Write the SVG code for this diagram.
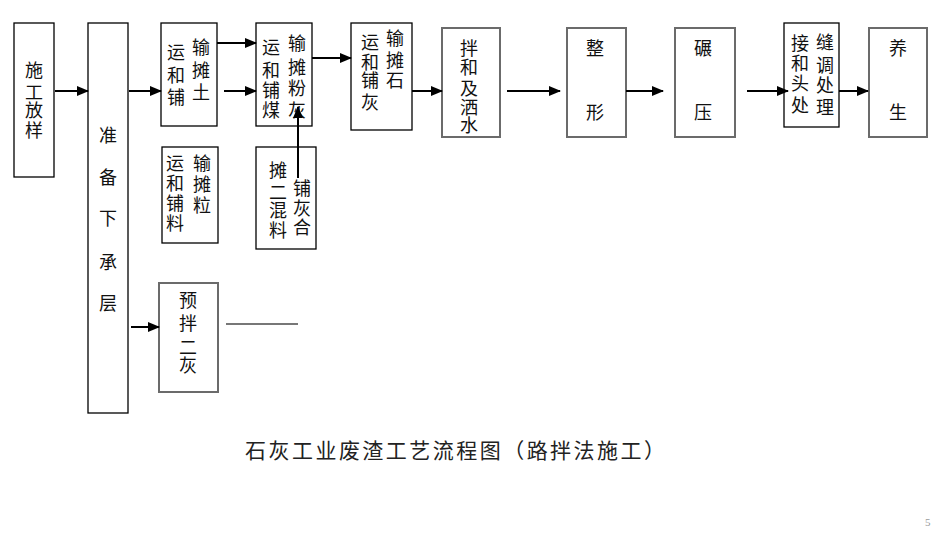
<svg xmlns="http://www.w3.org/2000/svg" width="931" height="533" viewBox="0 0 931 533">
<defs>
<marker id="ah" markerWidth="12" markerHeight="12" refX="11" refY="5" orient="auto" markerUnits="userSpaceOnUse" viewBox="0 0 12 10">
<path d="M0,0 L12,5 L0,10 Z" fill="#000"/>
</marker>
</defs>
<style>
.b{fill:#fff;stroke:#000;stroke-width:1.3}
.g{fill:#fff;stroke:#6b6b6b;stroke-width:2}
.t{font-family:"Noto Sans CJK SC","Liberation Sans",sans-serif;font-size:18px;fill:#111;text-anchor:middle}
.c{stroke:#000;stroke-width:2;fill:none}
.title{font-family:"Noto Sans CJK SC","Liberation Sans",sans-serif;font-size:21px;fill:#222;text-anchor:start}
</style>
<rect width="931" height="533" fill="#fff"/>
<g id="n1"><rect class="b" x="14" y="23" width="40" height="154"/>
<text class="t"><tspan x="34" y="77">施</tspan><tspan x="34" y="99">工</tspan><tspan x="34" y="117">放</tspan><tspan x="34" y="137">样</tspan></text></g>
<g id="n2"><rect class="b" x="88" y="23" width="40" height="390"/>
<text class="t"><tspan x="108" y="142">准</tspan><tspan x="108" y="184">备</tspan><tspan x="108" y="225">下</tspan><tspan x="108" y="269">承</tspan><tspan x="108" y="310">层</tspan></text></g>
<g id="n3"><rect class="b" x="161" y="23" width="56" height="103"/>
<text class="t"><tspan x="176" y="59">运</tspan><tspan x="176" y="82">和</tspan><tspan x="176" y="104">铺</tspan><tspan x="201" y="54">输</tspan><tspan x="201" y="77">摊</tspan><tspan x="201" y="99">土</tspan></text></g>
<g id="n4"><rect class="b" x="256" y="23" width="56" height="103"/>
<text class="t"><tspan x="271" y="54">运</tspan><tspan x="271" y="77">和</tspan><tspan x="271" y="97">铺</tspan><tspan x="271" y="117">煤</tspan><tspan x="297" y="50">输</tspan><tspan x="297" y="74">摊</tspan><tspan x="297" y="95">粉</tspan><tspan x="297" y="117">灰</tspan></text></g>
<g id="n5"><rect class="b" x="351" y="23" width="61" height="107"/>
<text class="t"><tspan x="370" y="49">运</tspan><tspan x="370" y="69">和</tspan><tspan x="370" y="87">铺</tspan><tspan x="370" y="109">灰</tspan><tspan x="395" y="45">输</tspan><tspan x="395" y="67">摊</tspan><tspan x="395" y="87">石</tspan></text></g>
<g id="n6"><rect class="g" x="442" y="28" width="58" height="109"/>
<text class="t"><tspan x="469" y="55">拌</tspan><tspan x="469" y="74">和</tspan><tspan x="469" y="95">及</tspan><tspan x="469" y="114">洒</tspan><tspan x="469" y="132">水</tspan></text></g>
<g id="n7"><rect class="g" x="567" y="28" width="59" height="109"/>
<text class="t"><tspan x="595" y="55">整</tspan><tspan x="595" y="119">形</tspan></text></g>
<g id="n8"><rect class="g" x="675" y="28" width="60" height="109"/>
<text class="t"><tspan x="703" y="55">碾</tspan><tspan x="703" y="119">压</tspan></text></g>
<g id="n9"><rect class="b" x="784" y="23" width="55" height="104"/>
<text class="t"><tspan x="800" y="50">接</tspan><tspan x="800" y="70">和</tspan><tspan x="800" y="90">头</tspan><tspan x="800" y="112">处</tspan><tspan x="825" y="49">缝</tspan><tspan x="825" y="72">调</tspan><tspan x="825" y="92">处</tspan><tspan x="825" y="114">理</tspan></text></g>
<g id="n10"><rect class="g" x="869" y="28" width="58" height="109"/>
<text class="t"><tspan x="898" y="55">养</tspan><tspan x="898" y="119">生</tspan></text></g>
<g id="n11"><rect class="b" x="162" y="147" width="56" height="96"/>
<text class="t"><tspan x="175" y="170">运</tspan><tspan x="175" y="190">和</tspan><tspan x="175" y="210">铺</tspan><tspan x="175" y="230">料</tspan><tspan x="202" y="170">输</tspan><tspan x="202" y="191">摊</tspan><tspan x="202" y="212">粒</tspan></text></g>
<g id="n12"><rect class="b" x="256" y="147" width="60" height="102"/>
<text class="t"><tspan x="278" y="177">摊</tspan><tspan x="278" y="199">二</tspan><tspan x="278" y="217">混</tspan><tspan x="278" y="237">料</tspan><tspan x="302" y="195">铺</tspan><tspan x="302" y="215">灰</tspan><tspan x="302" y="234">合</tspan></text></g>
<g id="n13"><rect class="g" x="159" y="283" width="59" height="109"/>
<text class="t"><tspan x="188" y="307">预</tspan><tspan x="188" y="330">拌</tspan><tspan x="188" y="354">二</tspan><tspan x="188" y="372">灰</tspan></text></g>
<g id="connectors">
<line class="c" x1="55" y1="91" x2="88" y2="91" marker-end="url(#ah)"/>
<line class="c" x1="129" y1="91" x2="161" y2="91" marker-end="url(#ah)"/>
<line class="c" x1="217" y1="43" x2="256" y2="43" marker-end="url(#ah)"/>
<line class="c" x1="224" y1="91" x2="256" y2="91" marker-end="url(#ah)"/>
<line class="c" x1="312" y1="58" x2="351" y2="58" marker-end="url(#ah)"/>
<line class="c" x1="412" y1="91" x2="442" y2="91" marker-end="url(#ah)"/>
<line class="c" x1="507" y1="91" x2="560" y2="91" marker-end="url(#ah)"/>
<line class="c" x1="626" y1="91" x2="663" y2="91" marker-end="url(#ah)"/>
<line class="c" x1="747" y1="91" x2="788" y2="91" marker-end="url(#ah)"/>
<line class="c" x1="839" y1="91" x2="868" y2="91" marker-end="url(#ah)"/>
<line class="c" x1="298" y1="178" x2="298" y2="107" marker-end="url(#ah)"/>
<line class="c" x1="131" y1="327" x2="159" y2="327" marker-end="url(#ah)"/>
<line x1="226" y1="324" x2="298" y2="324" stroke="#777" stroke-width="2"/>
</g>
<text class="title" x="245" y="458" textLength="420">石灰工业废渣工艺流程图（路拌法施工）</text>
<text x="925" y="526" font-family="Liberation Serif,serif" font-size="11" fill="#999">5</text>
</svg>
